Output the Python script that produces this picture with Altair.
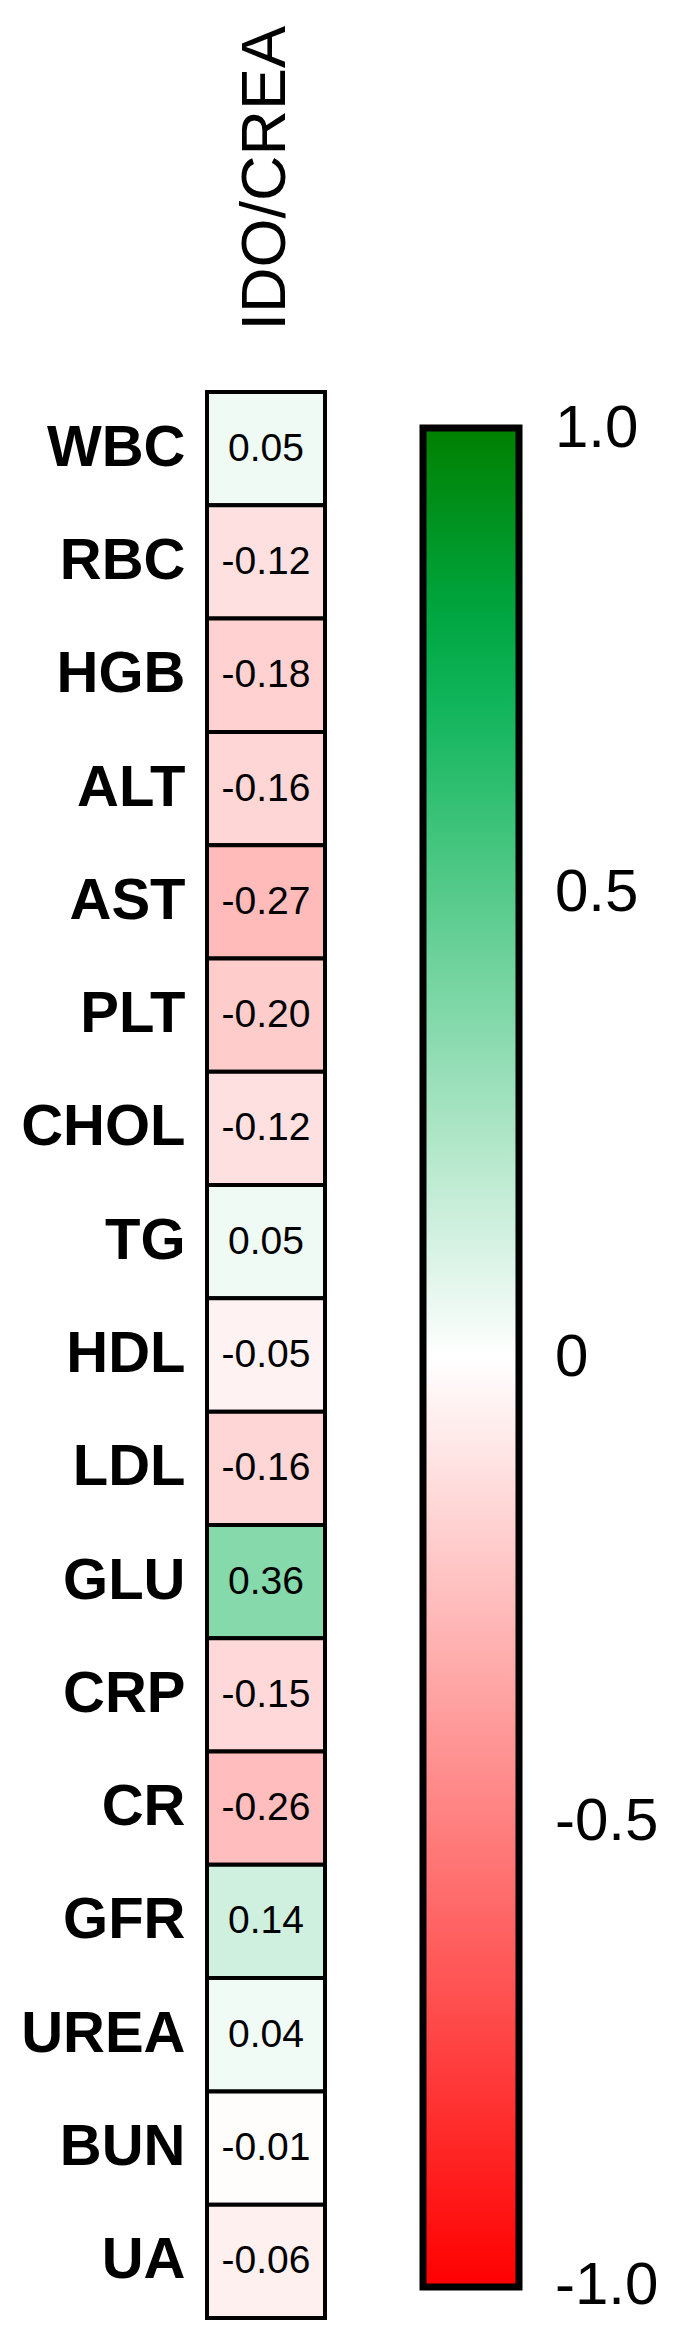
import altair as alt
import pandas as pd

params = ["WBC", "RBC", "HGB", "ALT", "AST", "PLT", "CHOL", "TG", "HDL", "LDL",
          "GLU", "CRP", "CR", "GFR", "UREA", "BUN", "UA"]
values = [0.05, -0.12, -0.18, -0.16, -0.27, -0.20, -0.12, 0.05, -0.05, -0.16,
          0.36, -0.15, -0.26, 0.14, 0.04, -0.01, -0.06]
column = "IDO/CREA"
# end values nudged just inside the domain so the labels centre on the bar ends
legend_ticks = [0.999, 0.5, 0.0, -0.5, -0.999]
color_domain = [-1.0, 0.0, 0.75, 1.0]
color_range = ["#ff0000", "#ffffff", "#00b050", "#008000"]

df = pd.DataFrame({"param": params, "value": values, "col": [column] * len(params)})

base = alt.Chart(df).encode(
    x=alt.X("col:N", title=None,
            axis=alt.Axis(orient="top", labelAngle=-90, labelFontSize=63,
                          labelFont="Liberation Sans", labelColor="#000000",
                          labelPadding=62, ticks=False, tickSize=0, domain=False,
                          labelLimit=500)),
    y=alt.Y("param:N", sort=params, title=None,
            axis=alt.Axis(labelFontSize=58, labelFontWeight="bold",
                          labelFont="Liberation Sans", labelColor="#000000",
                          labelPadding=22, ticks=False, tickSize=0, domain=False,
                          labelLimit=400)),
)

rects = base.mark_rect(stroke="#000000", strokeWidth=4).encode(
    color=alt.Color("value:Q",
                    scale=alt.Scale(domain=color_domain, range=color_range, interpolate="rgb"),
                    legend=alt.Legend(title=None, orient="none", legendX=216, legendY=36,
                                      direction="vertical", gradientLength=1859,
                                      gradientThickness=96, gradientStrokeColor="#000000",
                                      gradientStrokeWidth=7, values=legend_ticks,
                                      labelExpr="datum.value == 0 ? '0' : replace(format(datum.value, '.1f'), '\u2212', '-')",
                                      labelFontSize=60, labelFont="Liberation Sans",
                                      labelColor="#000000", labelOffset=36,
                                      labelOverlap=False, padding=0))
)

texts = base.transform_calculate(
    label="replace(format(datum.value, '.2f'), '\u2212', '-')"
).mark_text(fontSize=39, font="Liberation Sans", color="#000000").encode(
    text="label:N"
)

chart = alt.layer(rects, texts).properties(
    width=118, height=1926,
    autosize=alt.AutoSizeParams(type="none"),
    padding={"left": 199, "top": 384, "right": 348, "bottom": 5},
).configure_view(stroke=None)

chart.save("out.html", embed_options={"renderer": "svg", "actions": False})
